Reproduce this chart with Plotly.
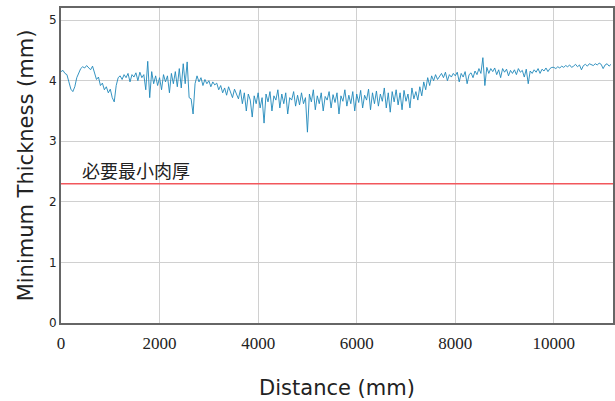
import plotly.graph_objects as go

step_mm = 40
thickness = [
    4.15, 4.17, 4.12, 4.10, 3.98, 3.86, 3.82, 3.90, 4.05, 4.12,
    4.20, 4.23, 4.21, 4.25, 4.22, 4.18, 4.24, 4.12, 4.02, 4.06,
    3.92, 3.96, 3.85, 3.90, 3.80, 3.86, 3.72, 3.65, 3.92, 4.05,
    4.08, 4.02, 4.10, 4.05, 4.12, 3.98, 4.10, 4.06, 4.13, 4.00,
    4.14, 4.05, 4.10, 3.85, 4.32, 3.72, 4.15, 3.95, 4.08, 3.92,
    4.05, 3.85, 4.10, 3.98, 4.08, 3.80, 4.12, 3.95, 4.15, 3.90,
    4.20, 3.88, 4.28, 3.95, 4.31, 3.72, 3.70, 3.45, 3.95, 4.08,
    3.98, 4.05, 3.92, 4.02, 3.95, 4.00, 3.90, 3.98, 3.93, 3.96,
    3.85, 3.92, 3.80, 3.88, 3.76, 3.90, 3.82, 3.72, 3.86, 3.78,
    3.70, 3.85, 3.62, 3.80, 3.50, 3.78, 3.68, 3.40, 3.75, 3.62,
    3.80, 3.55, 3.72, 3.30, 3.78, 3.65, 3.82, 3.50, 3.75, 3.68,
    3.85, 3.55, 3.78, 3.62, 3.80, 3.45, 3.72, 3.68, 3.82, 3.58,
    3.76, 3.60, 3.80, 3.62, 3.72, 3.15, 3.78, 3.65, 3.85, 3.52,
    3.75, 3.62, 3.80, 3.50, 3.74, 3.68, 3.82, 3.55, 3.77, 3.64,
    3.80, 3.45, 3.75, 3.66, 3.85, 3.58, 3.76, 3.62, 3.82, 3.50,
    3.78, 3.64, 3.84, 3.55, 3.76, 3.68, 3.86, 3.52, 3.80, 3.62,
    3.83, 3.58, 3.78, 3.66, 3.88, 3.55, 3.80, 3.48, 3.82, 3.65,
    3.85, 3.60, 3.80, 3.52, 3.84, 3.66, 3.78, 3.55, 3.88, 3.70,
    3.82, 3.68, 3.90, 3.75, 3.98, 3.85, 4.05, 3.92, 4.08, 4.00,
    4.10, 4.02, 4.08, 4.12, 4.05, 4.14, 4.00, 4.10, 4.06, 4.12,
    4.08, 4.14, 3.98, 4.12, 4.06, 4.15, 3.95, 4.10, 4.13, 4.05,
    4.16, 4.10, 4.20, 4.12, 4.38, 3.92, 4.22, 4.12, 4.20, 4.15,
    4.21, 4.10, 4.18, 4.05, 4.20, 4.14, 4.19, 4.08, 4.17, 4.12,
    4.18, 4.10, 4.20, 4.14, 4.17, 4.06, 4.19, 3.95, 4.16, 4.12,
    4.18, 4.14, 4.20, 4.12, 4.19, 4.16, 4.21, 4.15, 4.20, 4.22,
    4.22, 4.20, 4.23, 4.21, 4.24, 4.22, 4.25, 4.23, 4.26, 4.22,
    4.24, 4.27, 4.23, 4.26, 4.18, 4.25, 4.27, 4.24, 4.28, 4.26,
    4.25, 4.28, 4.26, 4.29, 4.27, 4.20, 4.26, 4.28, 4.24, 4.27,
]
distance = [i * step_mm for i in range(len(thickness))]

required_min = 2.3
required_label = "必要最小肉厚"
x_ticks = [0, 2000, 4000, 6000, 8000, 10000]
y_ticks = [0, 1, 2, 3, 4, 5]

fig = go.Figure()
fig.add_trace(go.Scatter(
    x=distance, y=thickness, mode="lines",
    line=dict(color="#1f88ba", width=0.9),
    showlegend=False,
))
fig.add_hline(y=required_min, line=dict(color="#f2575c", width=1.5))
fig.add_annotation(
    x=380, y=required_min + 0.22, xref="x", yref="y",
    text=required_label, showarrow=False, xanchor="left", yanchor="middle",
    font=dict(family="Noto Sans CJK JP", size=18, color="#222"),
)

fig.update_layout(
    width=615, height=401,
    margin=dict(l=61, r=2, t=8, b=78),
    paper_bgcolor="white", plot_bgcolor="white",
    font=dict(family="DejaVu Sans", color="#222"),
)
fig.update_xaxes(
    range=[0, 11200], tickvals=x_ticks, ticktext=[str(v) for v in x_ticks],
    tickfont=dict(family="Liberation Serif", size=17, color="#222"),
    showgrid=True, gridcolor="#d0d0d0", gridwidth=1,
    showline=True, linecolor="#666", linewidth=2, mirror=True,
    ticks="", zeroline=False, automargin=False, ticklabelstandoff=4,
    title=dict(text="Distance (mm)", font=dict(family="DejaVu Sans", size=21), standoff=28),
)
fig.update_yaxes(
    range=[0, 5.2], tickvals=y_ticks,
    tickfont=dict(family="DejaVu Sans", size=12, color="#222"),
    showgrid=True, gridcolor="#d0d0d0", gridwidth=1,
    showline=True, linecolor="#666", linewidth=2, mirror=True,
    ticks="", zeroline=False, automargin=False,
    title=dict(text="Minimum Thickness (mm)", font=dict(family="DejaVu Sans", size=21), standoff=10),
)

fig.write_html(
    "out.html",
    config={"displayModeBar": False},
    post_script="document.body.style.margin='0';document.body.style.overflow='hidden';",
)
